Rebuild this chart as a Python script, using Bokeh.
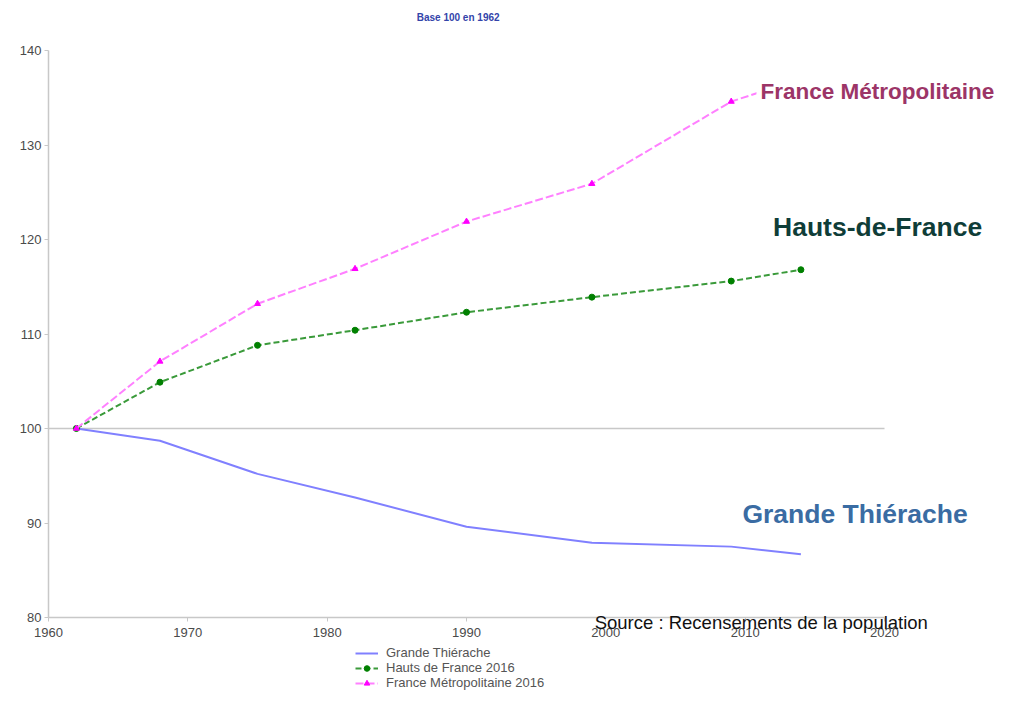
from bokeh.plotting import figure
from bokeh.models import Label, Legend, LegendItem, Range1d, FixedTicker, LinearAxis
from bokeh.embed import file_html
from bokeh.resources import INLINE

years = [1962, 1968, 1975, 1982, 1990, 1999, 2009, 2014]
grande_thierache = [100, 98.7, 95.2, 92.7, 89.6, 87.9, 87.5, 86.7]
hauts_de_france = [100, 104.9, 108.8, 110.4, 112.3, 113.9, 115.6, 116.8]
france_metro = [100, 107.1, 113.2, 116.9, 121.9, 125.9, 134.6, 137.0]

x_ticks = [1960, 1970, 1980, 1990, 2000, 2010, 2020]
y_ticks = [80, 90, 100, 110, 120, 130, 140]
base_value = 100

title_text = "Base 100 en 1962"
source_text = "Source : Recensements de la population"
legend_labels = ["Grande Thiérache", "Hauts de France 2016", "France Métropolitaine 2016"]
series_labels = ["France Métropolitaine", "Hauts-de-France", "Grande Thiérache"]

W, H = 996, 690
# frame covers the whole canvas; axes are placed at fixed data locations
px_per_year = (884 - 48) / 60.0
px_per_unit = (617 - 50) / 60.0
x0 = 1960 - 48 / px_per_year
x1 = x0 + W / px_per_year
y1 = 140 + 50 / px_per_unit
y0 = y1 - H / px_per_unit

p = figure(width=W, height=H, output_backend="svg", toolbar_location=None,
           x_range=Range1d(x0, x1), y_range=Range1d(y0, y1),
           x_axis_type=None, y_axis_type=None,
           min_border=0, min_border_left=0, min_border_right=0,
           min_border_top=0, min_border_bottom=0)
p.outline_line_color = None

xa = LinearAxis(fixed_location=y_ticks[0], bounds=(x_ticks[0], x_ticks[-1]),
                ticker=FixedTicker(ticks=x_ticks))
ya = LinearAxis(fixed_location=x_ticks[0], bounds=(y_ticks[0], y_ticks[-1]),
                ticker=FixedTicker(ticks=y_ticks))
for ax in (xa, ya):
    ax.axis_line_color = "#c8c8c8"
    ax.axis_line_width = 1.5
    ax.major_tick_line_color = "#c8c8c8"
    ax.minor_tick_line_color = None
    ax.major_tick_out = 4
    ax.major_tick_in = 0
    ax.major_label_text_font = "Liberation Sans"
    ax.major_label_text_font_size = "13px"
    ax.major_label_text_color = "#4a4a4a"
xa.major_label_standoff = 6
ya.major_label_standoff = 3
p.add_layout(xa, "below")
p.add_layout(ya, "left")

p.segment(x0=[x_ticks[0]], y0=[base_value], x1=[x_ticks[-1]], y1=[base_value],
          line_color="#c8c8c8", line_width=1.5)

r1 = p.line(years, grande_thierache, line_color="#8080ff", line_width=2)
r2 = p.line(years, hauts_de_france, line_color="#3a9a3a", line_width=2, line_dash="6 3")
r2m = p.scatter(years, hauts_de_france, marker="circle", size=6, fill_color="#008000", line_color="#008000")
r3 = p.line(years, france_metro, line_color="#ff80ff", line_width=2, line_dash="8 3")
r3m = p.scatter(years, france_metro, marker="triangle", size=6, fill_color="#ff00ff", line_color="#ff00ff")

legend = Legend(items=[LegendItem(label=legend_labels[0], renderers=[r1]),
                       LegendItem(label=legend_labels[1], renderers=[r2, r2m]),
                       LegendItem(label=legend_labels[2], renderers=[r3, r3m])],
                location=(355, 0), orientation="vertical",
                label_text_font="Liberation Sans", label_text_font_size="13px",
                label_text_color="#555555", glyph_height=14, glyph_width=23,
                label_height=14, label_standoff=8, spacing=0, padding=0, margin=0,
                border_line_color=None, background_fill_alpha=0)
p.add_layout(legend)

p.add_layout(Label(x=1989.4, y=143.5, text=title_text, text_align="center", text_baseline="middle",
                   text_font="Liberation Sans", text_font_size="10px", text_font_style="bold",
                   text_color="#3344aa"))
p.add_layout(Label(x=2010.81, y=135.66, text=series_labels[0], text_align="left", text_baseline="middle",
                   text_font="Liberation Sans", text_font_size="22.5px", text_font_style="bold",
                   text_color="#9c3567", background_fill_color="white", padding=4))
p.add_layout(Label(x=2012.0, y=121.27, text=series_labels[1], text_align="left", text_baseline="middle",
                   text_font="Liberation Sans", text_font_size="26.5px", text_font_style="bold",
                   text_color="#0f3d38"))
p.add_layout(Label(x=2009.8, y=90.9, text=series_labels[2], text_align="left", text_baseline="middle",
                   text_font="Liberation Sans", text_font_size="26.5px", text_font_style="bold",
                   text_color="#3a6ca3"))
p.add_layout(Label(x=1999.2, y=79.47, text=source_text, text_align="left", text_baseline="middle",
                   text_font="Liberation Sans", text_font_size="18.5px", text_color="#111111"))

open("out.html", "w").write(file_html(p, INLINE))
